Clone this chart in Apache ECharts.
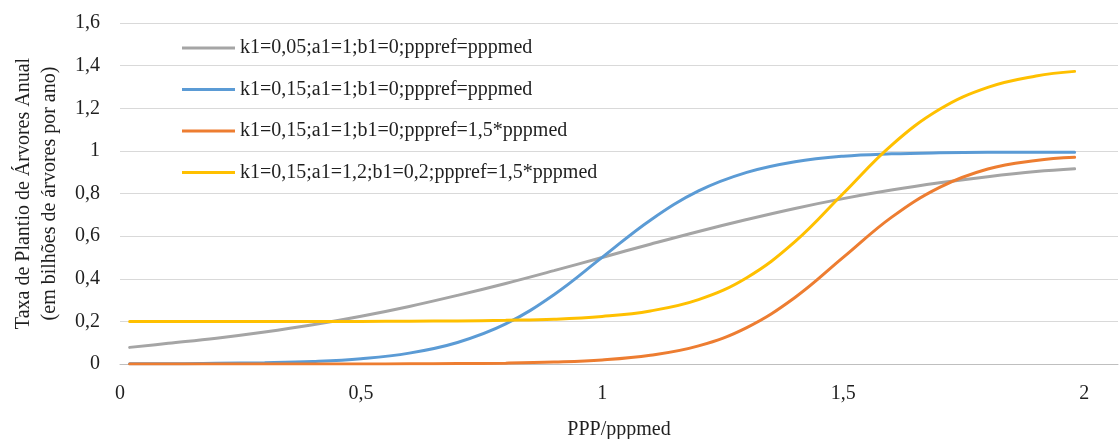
<!DOCTYPE html>
<html>
<head>
<meta charset="utf-8">
<script src="https://cdn.jsdelivr.net/npm/echarts@6/dist/echarts.min.js"></script>
<style>
html,body{margin:0;padding:0;background:#fff;}
#chart{width:1120px;height:439px;}
</style>
</head>
<body>
<div id="chart"></div>
<script>
// x values (PPP/pppmed)
var xValues = [0.02, 0.1, 0.2, 0.3, 0.4, 0.5, 0.6, 0.7, 0.8, 0.9, 1.0, 1.1, 1.2, 1.3, 1.4, 1.5, 1.6, 1.7, 1.8, 1.9, 1.98];

var seriesNames = [
  'k1=0,05;a1=1;b1=0;pppref=pppmed',
  'k1=0,15;a1=1;b1=0;pppref=pppmed',
  'k1=0,15;a1=1;b1=0;pppref=1,5*pppmed',
  'k1=0,15;a1=1,2;b1=0,2;pppref=1,5*pppmed'
];

var grayValues   = [0.078, 0.097, 0.121, 0.150, 0.184, 0.224, 0.270, 0.322, 0.378, 0.438, 0.500, 0.562, 0.622, 0.678, 0.730, 0.776, 0.816, 0.850, 0.879, 0.903, 0.916];
var blueValues   = [0.001, 0.001, 0.003, 0.006, 0.012, 0.025, 0.051, 0.101, 0.188, 0.325, 0.500, 0.675, 0.812, 0.899, 0.949, 0.975, 0.986, 0.991, 0.993, 0.994, 0.994];
var orangeValues = [0.000, 0.000, 0.000, 0.000, 0.000, 0.000, 0.001, 0.002, 0.004, 0.009, 0.019, 0.041, 0.085, 0.171, 0.312, 0.500, 0.688, 0.829, 0.915, 0.955, 0.970];
var yellowValues = [0.200, 0.200, 0.200, 0.200, 0.200, 0.200, 0.201, 0.202, 0.205, 0.210, 0.223, 0.249, 0.302, 0.405, 0.574, 0.800, 1.026, 1.195, 1.298, 1.351, 1.373];

var xTickLabels = ['0', '0,5', '1', '1,5', '2'];
var yTickLabels = ['0', '0,2', '0,4', '0,6', '0,8', '1', '1,2', '1,4', '1,6'];

var colors = ['#A5A5A5', '#5B9BD5', '#ED7D31', '#FFC000'];
var allValues = [grayValues, blueValues, orangeValues, yellowValues];

function pairs(vals) {
  return xValues.map(function (x, i) { return [x, vals[i]]; });
}

var font = '"Liberation Serif", "Times New Roman", serif';
var textColor = '#1f1f1f';

var chart = echarts.init(document.getElementById('chart'));
chart.setOption({
  animation: false,
  backgroundColor: '#ffffff',
  grid: { left: 120, right: 2, top: 23, bottom: 75, containLabel: false, outerBoundsMode: 'none' },
  legend: {
    orient: 'vertical',
    left: 182,
    top: 38,
    padding: 0,
    itemWidth: 53,
    itemHeight: 3,
    itemGap: 21.5,
    icon: 'rect',
    textStyle: { fontFamily: font, fontSize: 20, color: textColor, lineHeight: 20 },
    data: seriesNames
  },
  xAxis: {
    type: 'value',
    min: 0,
    max: 2.07,
    interval: 0.5,
    name: 'PPP/pppmed',
    nameLocation: 'middle',
    nameGap: 56,
    nameTextStyle: { fontFamily: font, fontSize: 20, color: textColor },
    axisLine: { show: true, lineStyle: { color: '#BFBFBF', width: 1 } },
    axisTick: { show: false },
    splitLine: { show: false },
    axisLabel: {
      fontFamily: font, fontSize: 20, color: textColor, margin: 20,
      showMaxLabel: false,
      formatter: function (v) {
        var idx = Math.round(v / 0.5);
        return (Math.abs(v - idx * 0.5) < 1e-6 && xTickLabels[idx] !== undefined) ? xTickLabels[idx] : '';
      }
    }
  },
  yAxis: {
    type: 'value',
    min: 0,
    max: 1.6,
    interval: 0.2,
    name: 'Taxa de Plantio de Árvores Anual\n(em bilhões de árvores por ano)',
    nameLocation: 'middle',
    nameGap: 57,
    nameTextStyle: { fontFamily: font, fontSize: 20, color: textColor, lineHeight: 26, align: 'center' },
    axisLine: { show: false },
    axisTick: { show: false },
    splitLine: { show: true, lineStyle: { color: '#D9D9D9', width: 1 } },
    axisLabel: {
      fontFamily: font, fontSize: 20, color: textColor, margin: 20,
      formatter: function (v) {
        var idx = Math.round(v / 0.2);
        return yTickLabels[idx] !== undefined ? yTickLabels[idx] : '';
      }
    }
  },
  series: seriesNames.map(function (name, i) {
    return {
      name: name,
      type: 'line',
      data: pairs(allValues[i]),
      smooth: 0.4,
      showSymbol: false,
      symbol: 'none',
      color: colors[i],
      lineStyle: { color: colors[i], width: 3, cap: 'round' },
      z: 2 + i
    };
  })
});
</script>
</body>
</html>
